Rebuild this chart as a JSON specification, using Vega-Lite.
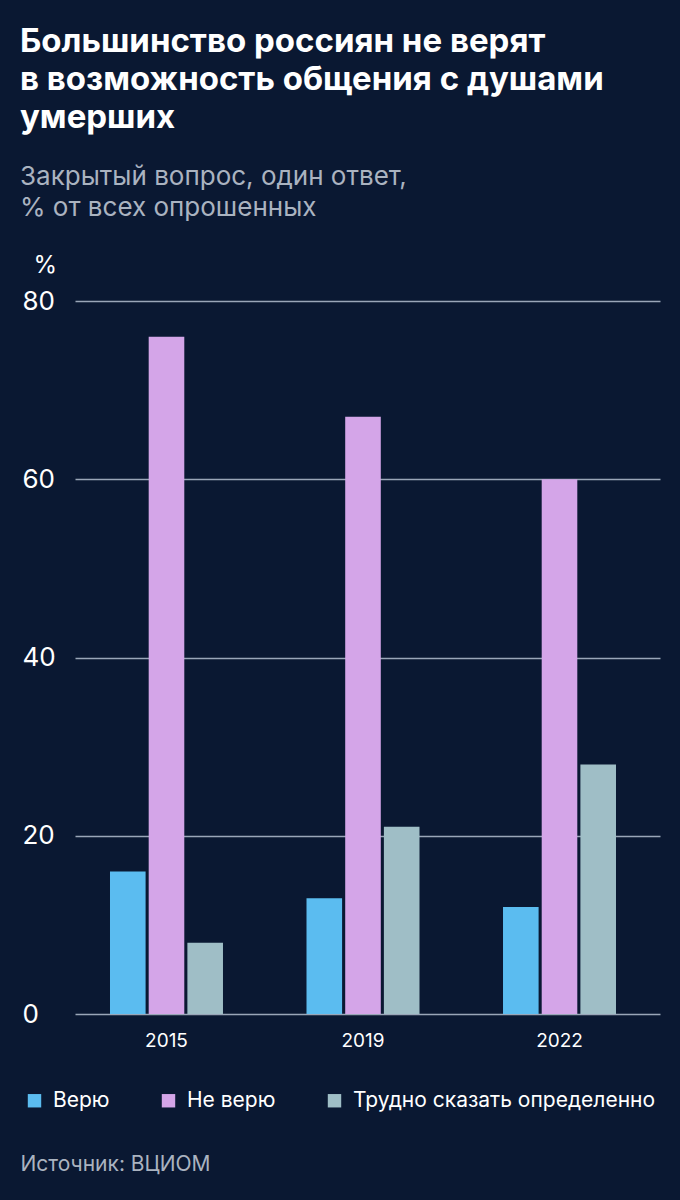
{
  "$schema": "https://vega.github.io/schema/vega-lite/v6.json",
  "width": 585,
  "height": 713,
  "autosize": {"type": "none"},
  "padding": {"left": 75, "top": 301, "right": 20, "bottom": 186},
  "background": "#0a1832",
  "config": {
    "view": {"stroke": null},
    "font": "Inter"
  },
  "title": {
    "text": ["Большинство россиян не верят", "в возможность общения с душами", "умерших"],
    "subtitle": ["Закрытый вопрос, один ответ,", "% от всех опрошенных"],
    "anchor": "start",
    "frame": "group",
    "dx": -55,
    "offset": 32,
    "color": "#ffffff",
    "fontSize": 33,
    "fontWeight": "bold",
    "lineHeight": 38,
    "subtitleColor": "#aab3c0",
    "subtitleFontSize": 26,
    "subtitleFontWeight": "normal",
    "subtitleLineHeight": 31,
    "subtitlePadding": 29
  },
  "data": {
    "values": [
      {"year": "2015", "answer": "Верю", "value": 16},
      {"year": "2015", "answer": "Не верю", "value": 76},
      {"year": "2015", "answer": "Трудно сказать определенно", "value": 8},
      {"year": "2019", "answer": "Верю", "value": 13},
      {"year": "2019", "answer": "Не верю", "value": 67},
      {"year": "2019", "answer": "Трудно сказать определенно", "value": 21},
      {"year": "2022", "answer": "Верю", "value": 12},
      {"year": "2022", "answer": "Не верю", "value": 60},
      {"year": "2022", "answer": "Трудно сказать определенно", "value": 28}
    ]
  },
  "mark": {"type": "bar"},
  "encoding": {
    "x": {
      "field": "year",
      "type": "nominal",
      "scale": {"paddingInner": 0.425, "paddingOuter": 0.201, "align": 0.443},
      "axis": {
        "title": "Источник: ВЦИОМ",
        "titleX": -55,
        "titleY": 150,
        "titleAlign": "left",
        "titleBaseline": "middle",
        "titleColor": "#aab3c0",
        "titleFontSize": 21,
        "titleFontWeight": "normal",
        "labelAngle": 0,
        "labelColor": "#ffffff",
        "labelFontSize": 19,
        "labelPadding": 17,
        "domain": false,
        "ticks": false
      }
    },
    "xOffset": {
      "field": "answer",
      "type": "nominal",
      "sort": ["Верю", "Не верю", "Трудно сказать определенно"],
      "scale": {"paddingInner": 0.08}
    },
    "y": {
      "field": "value",
      "type": "quantitative",
      "scale": {"domain": [0, 80]},
      "axis": {
        "values": [0, 20, 40, 60, 80],
        "title": "%",
        "titleAngle": 0,
        "titleX": -42,
        "titleY": -36,
        "titleAlign": "left",
        "titleBaseline": "middle",
        "titleColor": "#ffffff",
        "titleFontSize": 24,
        "titleFontWeight": "normal",
        "labelColor": "#ffffff",
        "labelFontSize": 26,
        "labelAlign": "left",
        "labelPadding": 53,
        "domain": false,
        "ticks": false,
        "gridColor": "#9aa6b8",
        "gridWidth": 1.5
      }
    },
    "color": {
      "field": "answer",
      "type": "nominal",
      "sort": ["Верю", "Не верю", "Трудно сказать определенно"],
      "scale": {
        "domain": ["Верю", "Не верю", "Трудно сказать определенно"],
        "range": ["#5bbcf0", "#d4a5e8", "#9fbec6"]
      },
      "legend": {
        "title": null,
        "orient": "none",
        "direction": "horizontal",
        "legendX": -51,
        "legendY": 789,
        "symbolType": "square",
        "symbolSize": 180,
        "symbolStrokeWidth": 0,
        "labelColor": "#ffffff",
        "labelFontSize": 21,
        "labelOffset": 8,
        "columnPadding": 48,
        "labelLimit": 400
      }
    }
  }
}
